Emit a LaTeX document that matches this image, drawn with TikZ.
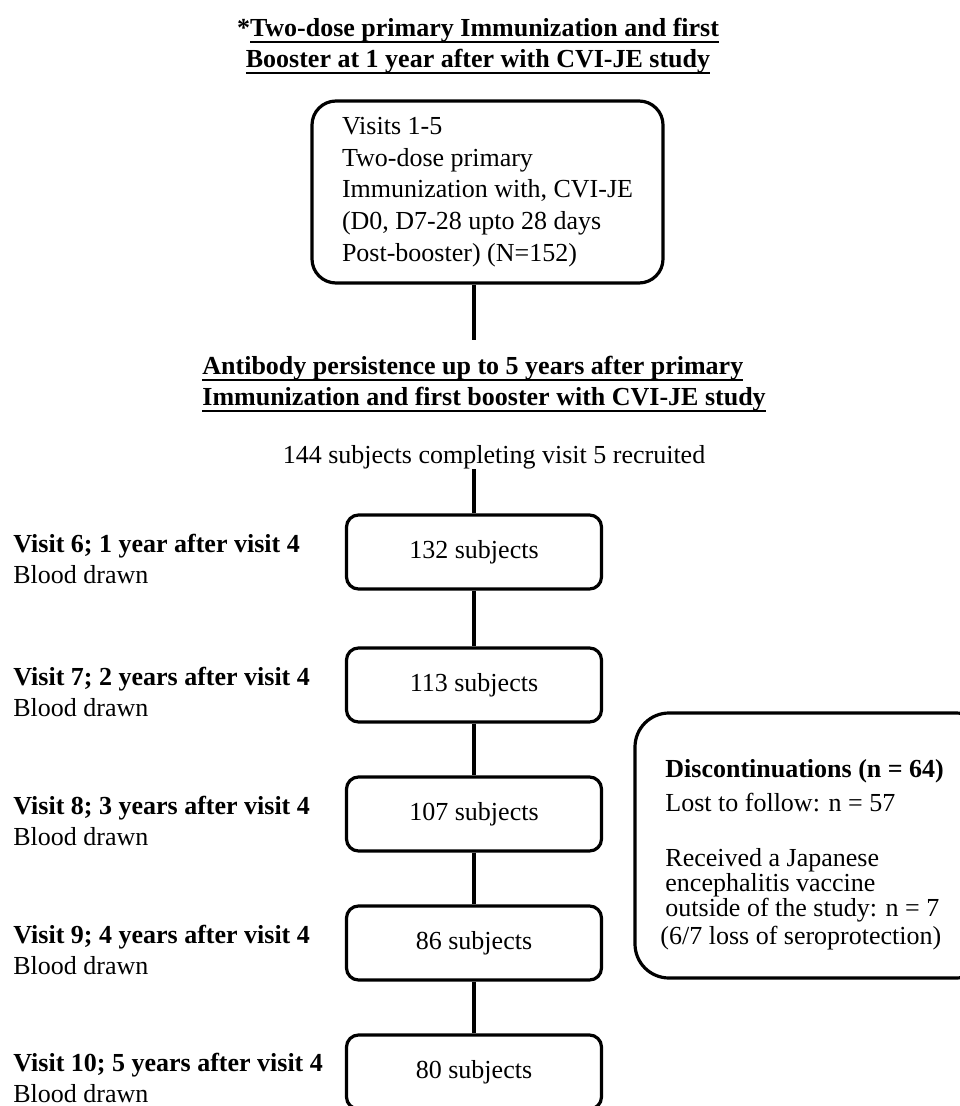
\documentclass[tikz,border=0pt]{standalone}
\usepackage{fontspec}
\setmainfont{Liberation Serif}
\usetikzlibrary{positioning}
\newsavebox\ulboxa
\newcommand{\ulbar}[1]{\sbox\ulboxa{#1}\rlap{\rule[-3.2pt]{\wd\ulboxa}{1pt}}\usebox\ulboxa}

\begin{document}
\begin{tikzpicture}[x=0.5pt, y=-0.5pt,
  font=\fontsize{13pt}{15.5pt}\selectfont,
  txt/.style={inner sep=0pt},
  head/.style={txt, font=\fontsize{13pt}{15.5pt}\selectfont\bfseries},
  bigbox/.style={draw, line width=1.6pt, rounded corners=12pt, minimum width=175.5pt, minimum height=91pt, align=left, inner sep=0pt, font=\fontsize{13pt}{15.9pt}\selectfont},
  subj/.style={draw, line width=1.6pt, rounded corners=6pt, minimum width=127.5pt, minimum height=37pt, inner sep=0pt},
  visit/.style={txt, anchor=west, align=left},
  link/.style={line width=1.6pt}
]
\useasboundingbox (0,0) rectangle (959,1106);
% first study: title and the primary immunization box
\node[head, align=center] (title) at (478,46) {*\ulbar{Two-dose primary Immunization and first}\\\ulbar{Booster at 1 year after with CVI-JE study}};
\node[bigbox] (prime) at (487.5,192) {Visits 1-5\\Two-dose primary\\Immunization with, CVI-JE\\(D0, D7-28 upto 28 days\\Post-booster) (N=152)};
% follow-up study: heading and recruitment
\node[head, align=left, anchor=west, inner ysep=8pt] (persist) at (202,384) {\ulbar{Antibody persistence up to 5 years after primary}\\\ulbar{Immunization and first booster with CVI-JE study}};
\node[txt, anchor=base] (recruit) at (494,463) {144 subjects completing visit 5 recruited};
% yearly visits, one box each, stacked
\node[subj] (n132) at (474,552) {132 subjects};
\node[subj, below=27.9pt of n132] (n113) {113 subjects};
\node[subj, below=25.9pt of n113] (n107) {107 subjects};
\node[subj, below=25.9pt of n107] (n86) {86 subjects};
\node[subj, below=25.9pt of n86] (n80) {80 subjects};
% visit labels on the left margin
\coordinate (lft) at (13,0);
\node[visit, yshift=-3.5pt] (v6) at (lft |- n132) {\textbf{Visit 6; 1 year after visit 4}\\Blood drawn};
\node[visit, yshift=-3.5pt] (v7) at (lft |- n113) {\textbf{Visit 7; 2 years after visit 4}\\Blood drawn};
\node[visit, yshift=-3.5pt] (v8) at (lft |- n107) {\textbf{Visit 8; 3 years after visit 4}\\Blood drawn};
\node[visit, yshift=-3.5pt] (v9) at (lft |- n86) {\textbf{Visit 9; 4 years after visit 4}\\Blood drawn};
\node[visit, yshift=-3pt] (v10) at (lft |- n80) {\textbf{Visit 10; 5 years after visit 4}\\Blood drawn};
% discontinuations box, runs past the right edge
\node[draw, line width=1.6pt, rounded corners=17pt, minimum width=177.5pt, minimum height=132.5pt] (disc) at (812.5,845.5) {};
\node[head, anchor=base west] (dhead) at (665,777) {Discontinuations (n = 64)};
\node[txt, anchor=base west] (dlost) at (665,811) {Lost to follow: n = 57};
\node[txt, anchor=north west, align=left, font=\fontsize{13pt}{12.5pt}\selectfont] (drec) at (665,848) {Received a Japanese\\encephalitis vaccine\\outside of the study: n = 7};
\node[txt, anchor=base west] (dsero) at (660,944) {(6/7 loss of seroprotection)};
% connectors
\draw[link] (prime.south -| n132) -- (persist.north -| n132);
\draw[link] (recruit.south -| n132) -- (n132);
\draw[link] (n132) -- (n113);
\draw[link] (n113) -- (n107);
\draw[link] (n107) -- (n86);
\draw[link] (n86) -- (n80);
\end{tikzpicture}
\end{document}
